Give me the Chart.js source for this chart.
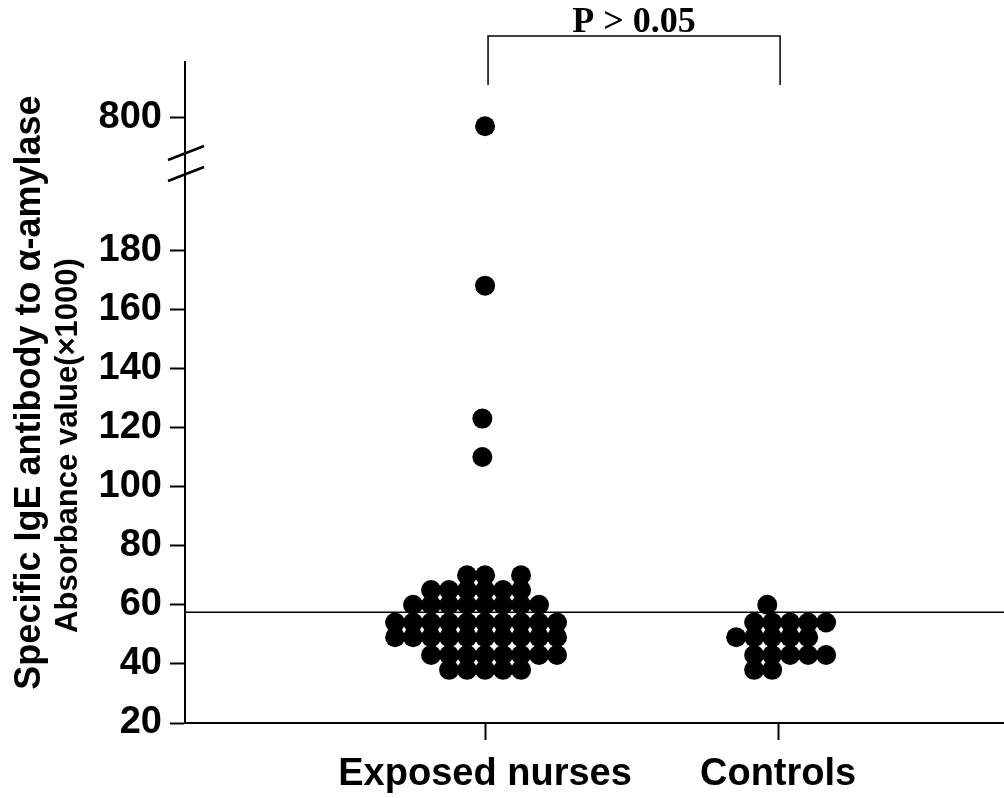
<!DOCTYPE html>
<html>
<head>
<meta charset="utf-8">
<script src="https://cdn.jsdelivr.net/npm/chart.js@4/dist/chart.umd.min.js"></script>
<style>
  html, body { margin: 0; padding: 0; background: #fff; }
  #wrap { width: 1004px; height: 798px; }
</style>
</head>
<body>
<div id="wrap"><canvas id="chart" width="1004" height="798"></canvas></div>
<script>
const categories = ['Exposed nurses', 'Controls'];
const yTicksLow = [20, 40, 60, 80, 100, 120, 140, 160, 180];
const yTicksHigh = [800];
const yTitle = 'Specific IgE antibody to \u03b1-amylase';
const ySubTitle = 'Absorbance value(\u00d71000)';
const pLabel = 'P > 0.05';
const cutoff = 57.5;

// values below the break, one per dot
const exposedValues = [
  70, 70, 70,
  65, 65, 65, 65, 65, 65,
  60, 60, 60, 60, 60, 60, 60, 60,
  54, 54, 54, 54, 54, 54, 54, 54, 54, 54,
  49, 49, 49, 49, 49, 49, 49, 49, 49, 49,
  43, 43, 43, 43, 43, 43, 43, 43,
  38, 38, 38, 38, 38,
  110, 123, 168
];
// side-by-side slot of each dot in its column
const exposedSlots = [
  -1, 0, 2,
  -3, -2, -1, 0, 1, 2,
  -4, -3, -2, -1, 0, 1, 2, 3,
  -5, -4, -3, -2, -1, 0, 1, 2, 3, 4,
  -5, -4, -3, -2, -1, 0, 1, 2, 3, 4,
  -3, -2, -1, 0, 1, 2, 3, 4,
  -2, -1, 0, 1, 2,
  -0.15, -0.15, 0
];
// value above the break
const exposedHighValues = [790];
const exposedHighSlots = [0];

const controlValues = [
  60,
  54, 54, 54, 54, 54,
  49, 49, 49, 49, 49,
  43, 43, 43, 43, 43,
  38, 38
];
const controlSlots = [
  -0.6,
  -1.33, -0.33, 0.67, 1.67, 2.67,
  -2.33, -1.33, -0.33, 0.67, 1.67,
  -1.33, -0.33, 0.67, 1.67, 2.67,
  -1.33, -0.33
];

const slotWidth = 0.0614;
const xMin = -0.024, xMax = 2.771;
const FONT = "'Liberation Sans', Arial, sans-serif";

function dots(values, slots, center) {
  return values.map((v, i) => ({ x: center + slots[i] * slotWidth, y: v }));
}

const dotStyle = {
  pointRadius: 10,
  pointHoverRadius: 10,
  pointBackgroundColor: '#000',
  pointBorderWidth: 0,
  showLine: false
};

const extras = {
  id: 'extras',
  afterDraw(chart) {
    const ctx = chart.ctx;
    const area = chart.chartArea;
    const xs = chart.scales.x;
    const yLow = chart.scales.y;
    ctx.save();
    ctx.fillStyle = '#000';
    ctx.strokeStyle = '#000';

    // axis titles
    const cy = (area.top + area.bottom) / 2;
    ctx.save();
    ctx.translate(30, cy);
    ctx.rotate(-Math.PI / 2);
    ctx.font = 'bold 36px ' + FONT;
    ctx.textAlign = 'center';
    ctx.textBaseline = 'middle';
    ctx.fillText(yTitle, 0, 0);
    ctx.restore();

    ctx.save();
    ctx.translate(68, cy + 53);
    ctx.rotate(-Math.PI / 2);
    ctx.font = 'bold 31px ' + FONT;
    ctx.textAlign = 'center';
    ctx.textBaseline = 'middle';
    ctx.fillText(ySubTitle, 0, 0);
    ctx.restore();

    // bracket + p value
    const xa = xs.getPixelForValue(1) + 3;
    const xb = xs.getPixelForValue(2) + 2;
    const top = area.top - 26;
    const bot = area.top + 23;
    ctx.lineWidth = 1.5;
    ctx.beginPath();
    ctx.moveTo(xa, bot);
    ctx.lineTo(xa, top);
    ctx.lineTo(xb, top);
    ctx.lineTo(xb, bot);
    ctx.stroke();
    ctx.font = "bold 36px 'Liberation Serif', 'Times New Roman', serif";
    ctx.textAlign = 'center';
    ctx.textBaseline = 'alphabetic';
    ctx.fillText(pLabel, (xa + xb) / 2, top - 4);

    // axis break
    const bx = area.left;
    const by = yLow.top;
    ctx.lineWidth = 2.5;
    [-10, 11].forEach(d => {
      ctx.beginPath();
      ctx.moveTo(bx - 17, by + d + 7);
      ctx.lineTo(bx + 19, by + d - 7);
      ctx.stroke();
    });
    ctx.restore();
  }
};

const axisGrid = {
  display: true,
  drawOnChartArea: false,
  drawTicks: true,
  tickLength: 15,
  tickWidth: 2,
  tickColor: '#000'
};

const yTickFont = { family: FONT, size: 38, weight: 'bold' };

new Chart(document.getElementById('chart'), {
  type: 'scatter',
  data: {
    datasets: [
      Object.assign({ data: dots(exposedValues, exposedSlots, 1), yAxisID: 'y' }, dotStyle),
      Object.assign({ data: dots(exposedHighValues, exposedHighSlots, 1), yAxisID: 'y2' }, dotStyle),
      Object.assign({ data: dots(controlValues, controlSlots, 2), yAxisID: 'y' }, dotStyle),
      {
        data: [{ x: xMin, y: cutoff }, { x: xMax, y: cutoff }],
        yAxisID: 'y',
        showLine: true,
        borderColor: '#000',
        borderWidth: 1.5,
        pointRadius: 0,
        pointHoverRadius: 0
      }
    ]
  },
  options: {
    responsive: false,
    animation: false,
    layout: { autoPadding: false, padding: { top: 62, right: 0, left: 0, bottom: 0 } },
    plugins: {
      legend: { display: false },
      tooltip: { enabled: false }
    },
    scales: {
      x: {
        type: 'linear',
        position: 'bottom',
        min: xMin,
        max: xMax,
        afterBuildTicks: s => { s.ticks = [1, 2].map(v => ({ value: v })); },
        afterFit: s => { s.height = 75; },
        ticks: {
          callback: v => categories[Math.round(v) - 1],
          font: { family: FONT, size: 38, weight: 'bold' },
          color: '#000',
          padding: 12,
          maxRotation: 0,
          autoSkip: false
        },
        grid: Object.assign({}, axisGrid, { tickLength: 17 }),
        border: { display: true, color: '#000', width: 2 }
      },
      y: {
        type: 'linear',
        position: 'left',
        stack: 'v',
        stackWeight: 560,
        min: 20,
        max: 209.5,
        afterBuildTicks: s => { s.ticks = yTicksLow.map(v => ({ value: v })); },
        afterFit: s => { s.width = 185; },
        ticks: { font: yTickFont, color: '#000', padding: 8, autoSkip: false },
        grid: axisGrid,
        border: { display: true, color: '#000', width: 2 }
      },
      y2: {
        type: 'linear',
        position: 'left',
        stack: 'v',
        stackWeight: 101,
        min: 750,
        max: 860,
        afterBuildTicks: s => { s.ticks = yTicksHigh.map(v => ({ value: v })); },
        afterFit: s => { s.width = 185; },
        ticks: { font: yTickFont, color: '#000', padding: 8, autoSkip: false },
        grid: axisGrid,
        border: { display: true, color: '#000', width: 2 }
      }
    }
  },
  plugins: [extras]
});
</script>
</body>
</html>
